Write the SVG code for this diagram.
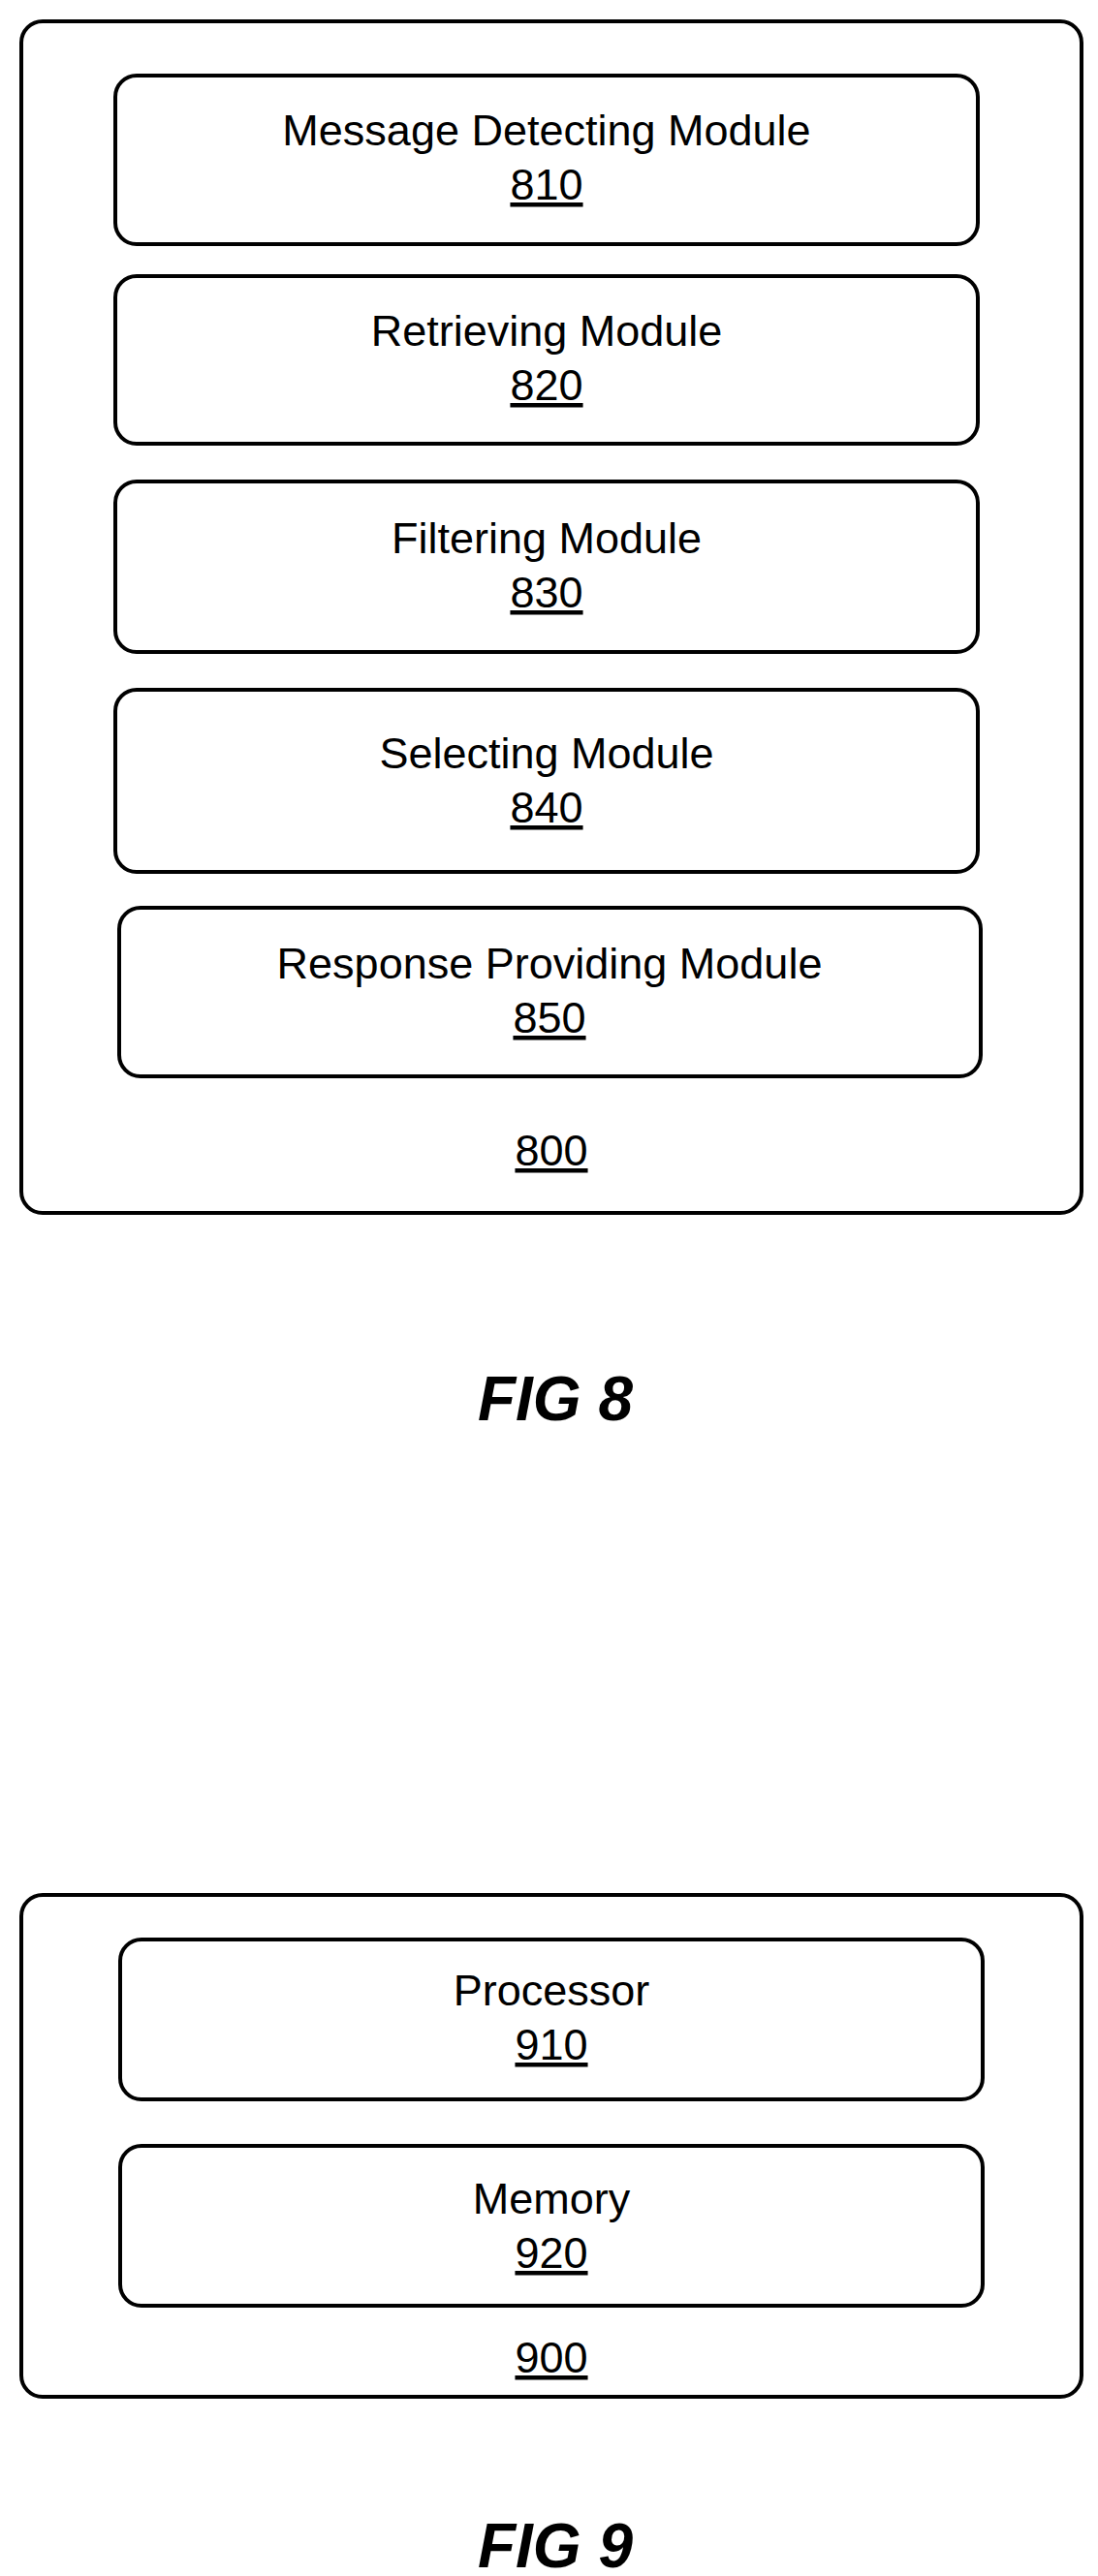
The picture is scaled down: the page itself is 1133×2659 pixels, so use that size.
<svg xmlns="http://www.w3.org/2000/svg" width="1133" height="2659" viewBox="0 0 1133 2659">
<style>
rect{fill:#fff;stroke:#000;stroke-width:4}
text{font-family:"Liberation Sans",Arial,sans-serif;font-size:45px;text-anchor:middle;fill:#000}
.n{text-decoration:underline}
.fig{font-size:64px;font-weight:bold;font-style:italic}
</style>
<rect width="1133" height="2659" style="stroke:none"/>
<g id="n800"><rect x="22" y="22" width="1094" height="1230" rx="22"/><text x="569" y="1203" class="n">800</text></g>
<g id="n810"><rect x="119" y="78" width="890" height="174" rx="22"/><text x="564" y="150">Message Detecting Module</text><text x="564" y="206" class="n">810</text></g>
<g id="n820"><rect x="119" y="285" width="890" height="173" rx="22"/><text x="564" y="357">Retrieving Module</text><text x="564" y="413" class="n">820</text></g>
<g id="n830"><rect x="119" y="497" width="890" height="176" rx="22"/><text x="564" y="571">Filtering Module</text><text x="564" y="627" class="n">830</text></g>
<g id="n840"><rect x="119" y="712" width="890" height="188" rx="22"/><text x="564" y="793">Selecting Module</text><text x="564" y="849" class="n">840</text></g>
<g id="n850"><rect x="123" y="937" width="889" height="174" rx="22"/><text x="567" y="1010">Response Providing Module</text><text x="567" y="1066" class="n">850</text></g>
<text x="573" y="1466" class="fig">FIG 8</text>
<g id="n900"><rect x="22" y="1956" width="1094" height="518" rx="22"/><text x="569" y="2449" class="n">900</text></g>
<g id="n910"><rect x="124" y="2002" width="890" height="165" rx="22"/><text x="569" y="2070">Processor</text><text x="569" y="2126" class="n">910</text></g>
<g id="n920"><rect x="124" y="2215" width="890" height="165" rx="22"/><text x="569" y="2285">Memory</text><text x="569" y="2341" class="n">920</text></g>
<text x="573" y="2650" class="fig">FIG 9</text>
<g id="connectors"/>
</svg>
